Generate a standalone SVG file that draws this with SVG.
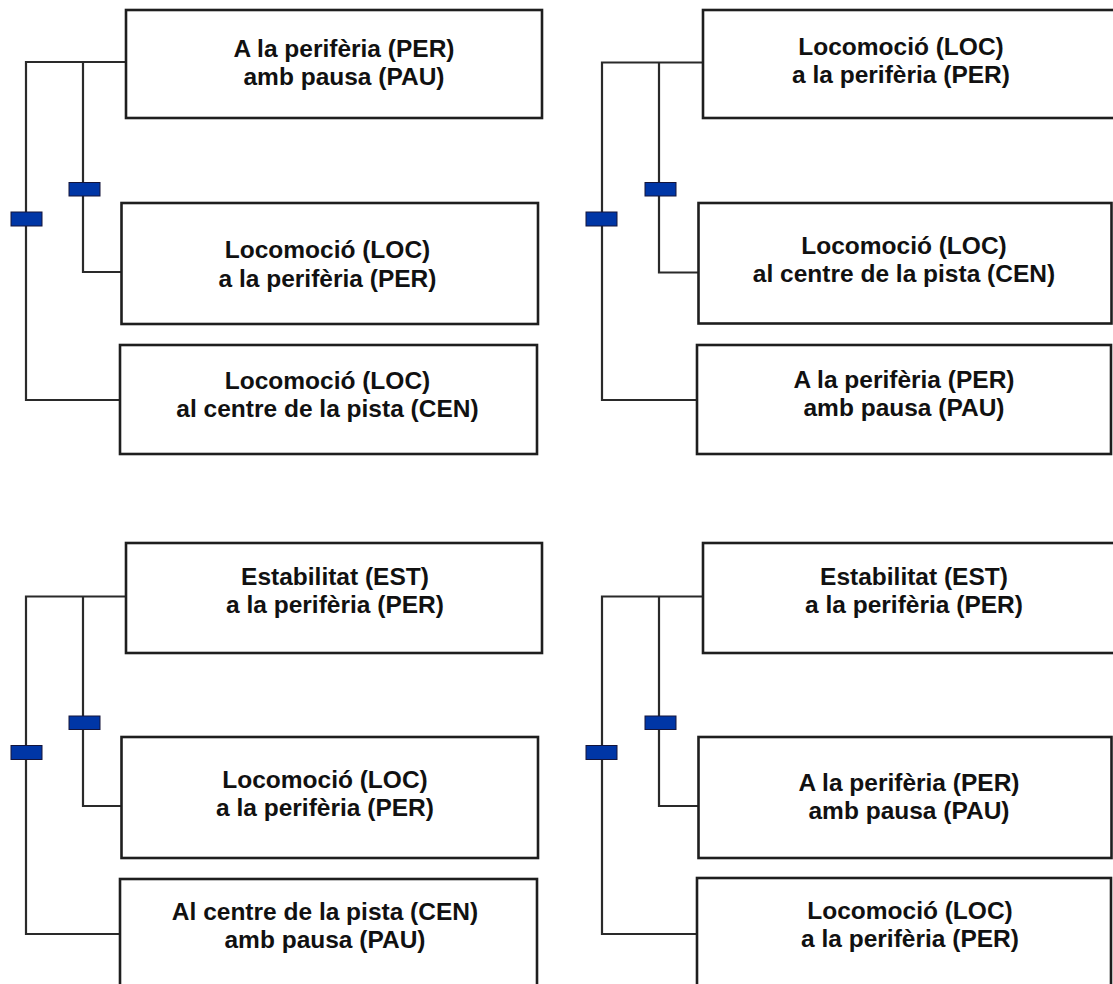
<svg xmlns="http://www.w3.org/2000/svg" width="1113" height="984" viewBox="0 0 1113 984">
  <style>
    .box { fill: #ffffff; stroke: #1e1e1e; stroke-width: 2.6; }
    .lbl { font-family: "Liberation Sans", Arial, sans-serif; font-weight: bold; font-size: 24.5px; fill: #111111; text-anchor: middle; }
    .wire { fill: none; stroke: #2a2a2a; stroke-width: 2.2; stroke-linejoin: miter; }
    .tick { fill: #0036a6; stroke: #14143a; stroke-width: 1; }
  </style>
  <rect x="0" y="0" width="1113" height="984" fill="#ffffff"/>

  <!-- connectors: bracket lines with blue junction markers -->
  <g id="connectors">
    <!-- top-left bracket -->
    <path class="wire" d="M126,62 H26 V400 H122"/>
    <path class="wire" d="M83,62 V272 H121.5"/>
    <rect class="tick" x="11" y="212" width="31" height="14"/>
    <rect class="tick" x="69" y="182.5" width="31" height="13.5"/>
    <!-- top-right bracket -->
    <path class="wire" d="M702,62.5 H602 V400 H698"/>
    <path class="wire" d="M659,62.5 V272.5 H698.5"/>
    <rect class="tick" x="586" y="212" width="31" height="14"/>
    <rect class="tick" x="645" y="182.5" width="31" height="13.5"/>
    <!-- bottom-left bracket -->
    <path class="wire" d="M126,596.5 H26 V934 H122"/>
    <path class="wire" d="M83,596.5 V806 H121.5"/>
    <rect class="tick" x="11" y="745.5" width="31" height="14"/>
    <rect class="tick" x="69" y="716" width="31" height="13.5"/>
    <!-- bottom-right bracket -->
    <path class="wire" d="M702,596.5 H602 V934 H698"/>
    <path class="wire" d="M659,596.5 V806 H698.5"/>
    <rect class="tick" x="586" y="745.5" width="31" height="14"/>
    <rect class="tick" x="645" y="716" width="31" height="13.5"/>
  </g>

  <!-- top-left group -->
  <g id="tl-per-pau">
    <rect class="box" x="126" y="10" width="416" height="108"/>
    <text class="lbl" x="344" y="57">A la perifèria (PER)</text>
    <text class="lbl" x="344" y="85">amb pausa (PAU)</text>
  </g>
  <g id="tl-loc-per">
    <rect class="box" x="121.5" y="203" width="416.5" height="121"/>
    <text class="lbl" x="327.5" y="258">Locomoció (LOC)</text>
    <text class="lbl" x="327.5" y="286.5">a la perifèria (PER)</text>
  </g>
  <g id="tl-loc-cen">
    <rect class="box" x="120" y="345" width="417" height="109"/>
    <text class="lbl" x="327.5" y="389">Locomoció (LOC)</text>
    <text class="lbl" x="327.5" y="417">al centre de la pista (CEN)</text>
  </g>

  <!-- top-right group -->
  <g id="tr-loc-per">
    <rect class="box" x="703" y="10" width="420" height="108"/>
    <text class="lbl" x="901" y="55">Locomoció (LOC)</text>
    <text class="lbl" x="901" y="83">a la perifèria (PER)</text>
  </g>
  <g id="tr-loc-cen">
    <rect class="box" x="698.5" y="203" width="413" height="120.5"/>
    <text class="lbl" x="904" y="254">Locomoció (LOC)</text>
    <text class="lbl" x="904" y="282">al centre de la pista (CEN)</text>
  </g>
  <g id="tr-per-pau">
    <rect class="box" x="697" y="345" width="414" height="109"/>
    <text class="lbl" x="904" y="388">A la perifèria (PER)</text>
    <text class="lbl" x="904" y="416">amb pausa (PAU)</text>
  </g>

  <!-- bottom-left group -->
  <g id="bl-est-per">
    <rect class="box" x="126" y="543" width="416" height="110"/>
    <text class="lbl" x="335" y="585">Estabilitat (EST)</text>
    <text class="lbl" x="335" y="613">a la perifèria (PER)</text>
  </g>
  <g id="bl-loc-per">
    <rect class="box" x="121.5" y="737" width="416.5" height="121"/>
    <text class="lbl" x="325" y="788">Locomoció (LOC)</text>
    <text class="lbl" x="325" y="816">a la perifèria (PER)</text>
  </g>
  <g id="bl-cen-pau">
    <rect class="box" x="120" y="879" width="417" height="130"/>
    <text class="lbl" x="325" y="920">Al centre de la pista (CEN)</text>
    <text class="lbl" x="325" y="948">amb pausa (PAU)</text>
  </g>

  <!-- bottom-right group -->
  <g id="br-est-per">
    <rect class="box" x="703" y="543" width="420" height="110"/>
    <text class="lbl" x="914" y="585">Estabilitat (EST)</text>
    <text class="lbl" x="914" y="613">a la perifèria (PER)</text>
  </g>
  <g id="br-per-pau">
    <rect class="box" x="698.5" y="737" width="413" height="121"/>
    <text class="lbl" x="909" y="791">A la perifèria (PER)</text>
    <text class="lbl" x="909" y="819">amb pausa (PAU)</text>
  </g>
  <g id="br-loc-per">
    <rect class="box" x="697" y="878" width="414" height="130"/>
    <text class="lbl" x="910" y="919">Locomoció (LOC)</text>
    <text class="lbl" x="910" y="947">a la perifèria (PER)</text>
  </g>
</svg>
